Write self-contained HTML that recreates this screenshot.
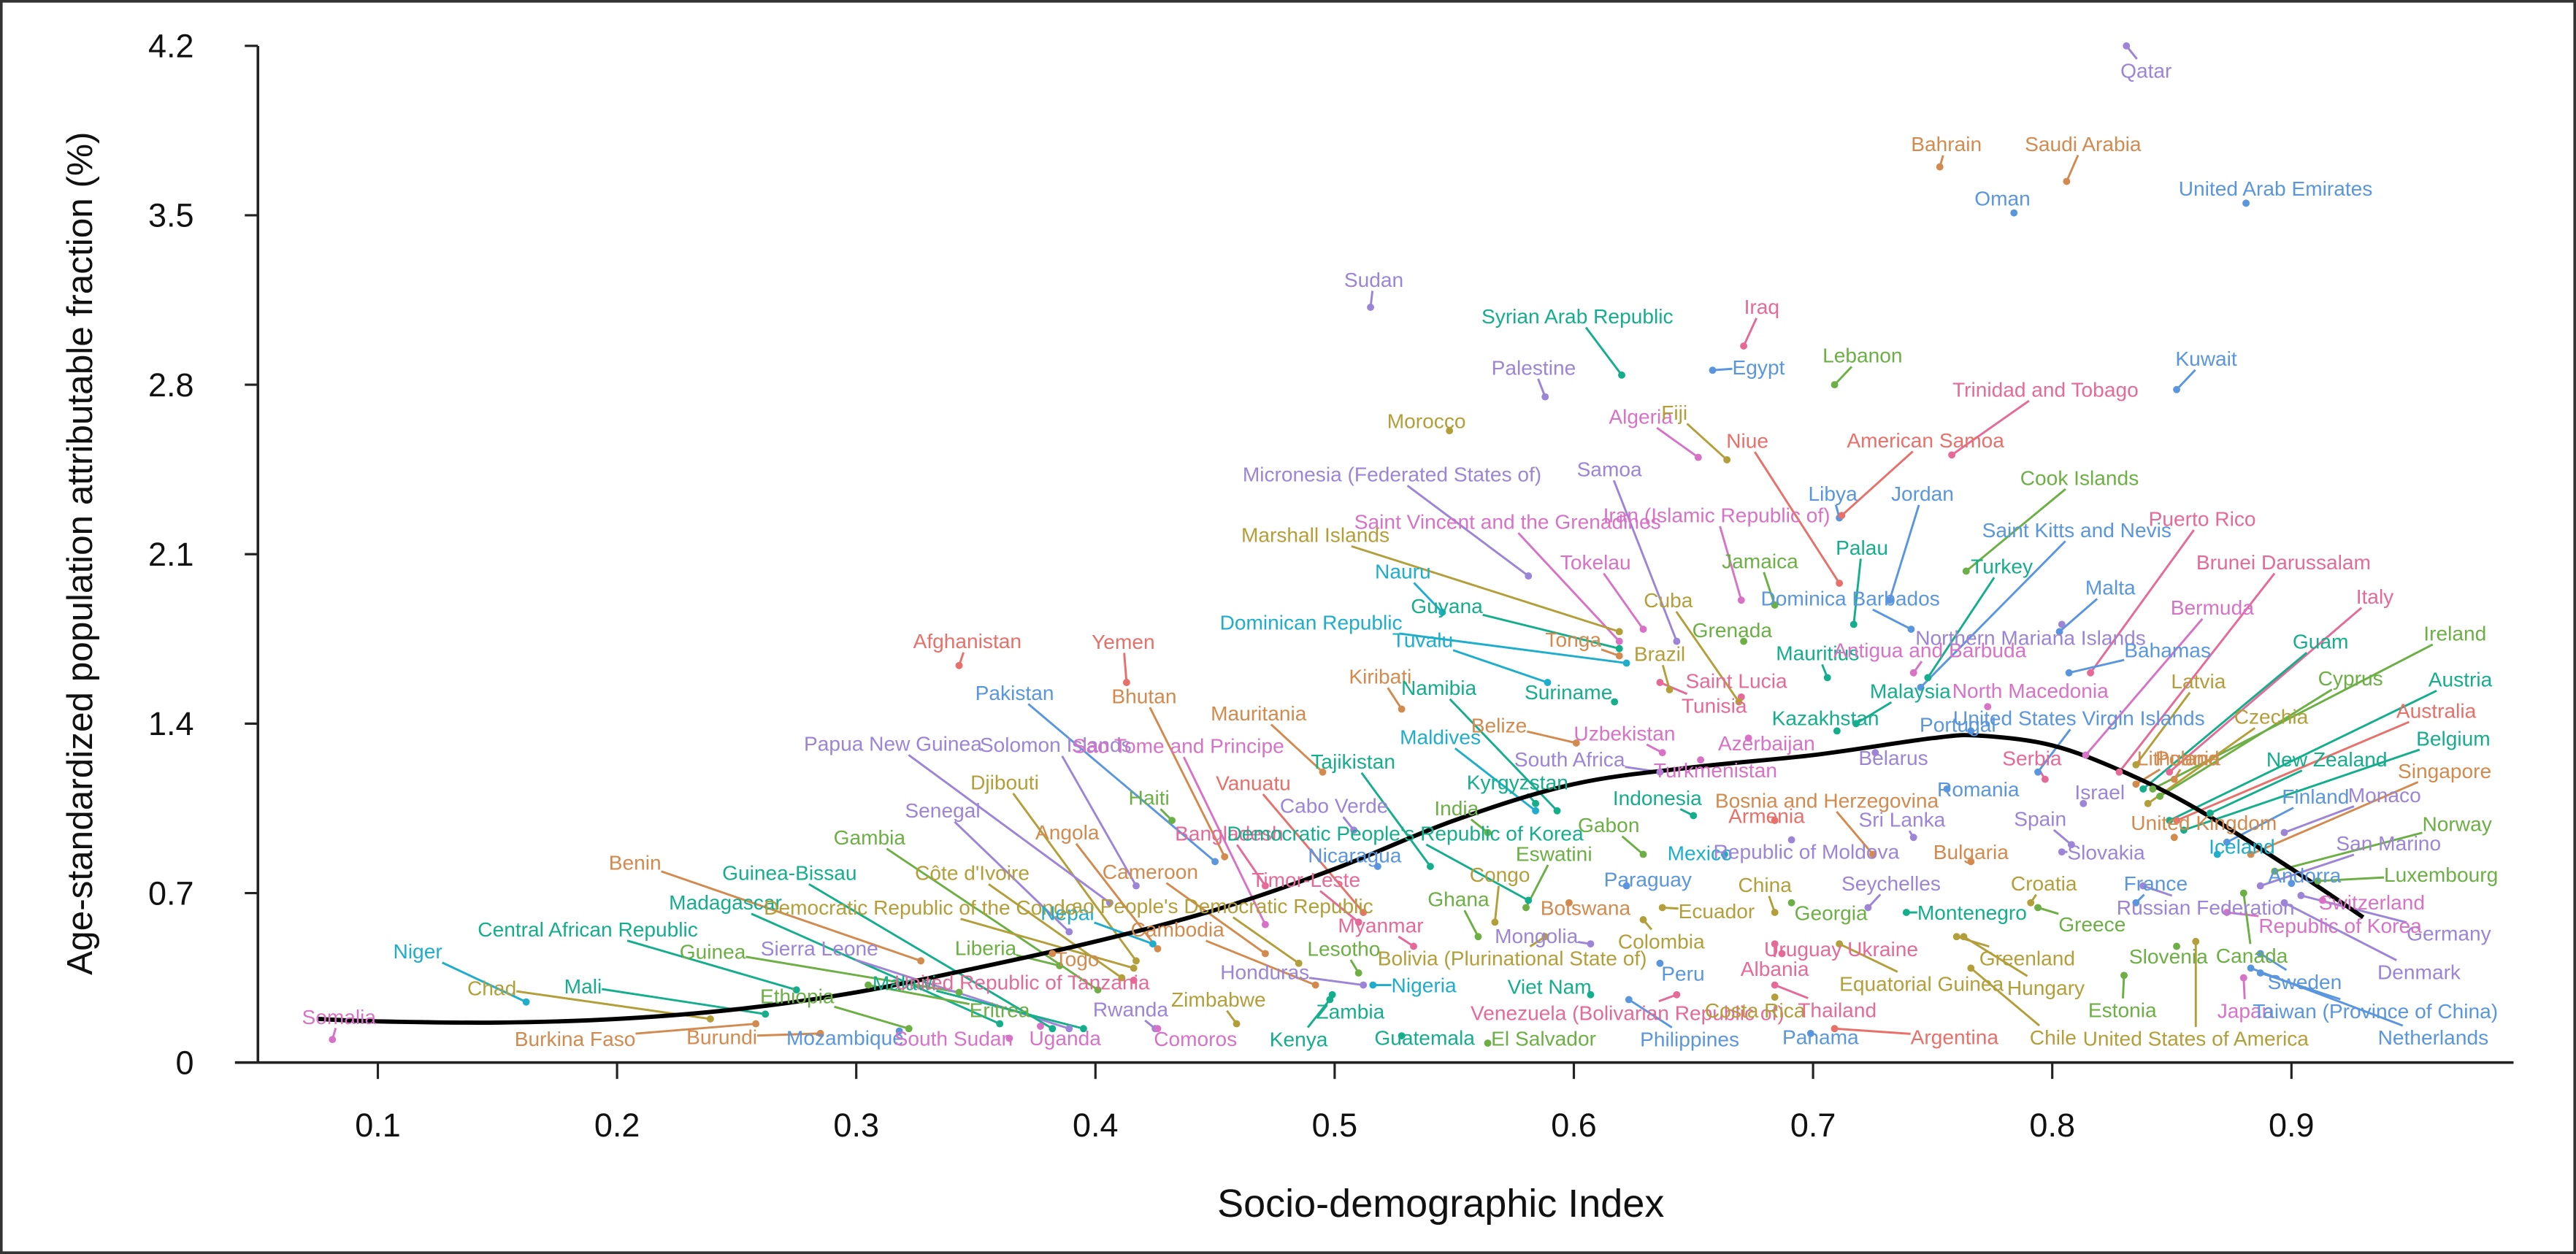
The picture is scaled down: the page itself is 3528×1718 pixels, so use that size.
<!DOCTYPE html>
<html><head><meta charset="utf-8">
<style>
html,body{margin:0;padding:0;background:#fff;}
svg{display:block;}
text{font-family:"Liberation Sans",Arial,sans-serif;}
</style></head>
<body>
<svg id="chart" width="3528" height="1718" viewBox="0 0 1568 763.6" preserveAspectRatio="none" xmlns="http://www.w3.org/2000/svg">
<rect x="0.8" y="0.8" width="1566.4" height="762" fill="#fff" stroke="#333" stroke-width="1.6"/>
<g id="axes"></g>
<g id="lines"></g>
<g id="curve"></g>
<g id="dots"></g>
<g id="labels"></g>
<text x="877" y="741" font-size="24" text-anchor="middle" fill="#111">Socio-demographic Index</text>
<text transform="translate(56,337) rotate(-90)" font-size="22" text-anchor="middle" fill="#111">Age-standardized population attributable fraction (%)</text>
</svg>
<script>
const xTicks = [0.1,0.2,0.3,0.4,0.5,0.6,0.7,0.8,0.9];
const xTickLabels = ["0.1","0.2","0.3","0.4","0.5","0.6","0.7","0.8","0.9"];
const yTicks = [0,0.7,1.4,2.1,2.8,3.5,4.2];
const yTickLabels = ["0","0.7","1.4","2.1","2.8","3.5","4.2"];
const smoothSdi = [0.075,0.1,0.15,0.2,0.25,0.3,0.35,0.4,0.45,0.5,0.55,0.6,0.65,0.7,0.75,0.77,0.8,0.83,0.86,0.9,0.93];
const smoothPaf = [0.18,0.17,0.165,0.18,0.22,0.29,0.39,0.5,0.63,0.8,1.0,1.15,1.22,1.27,1.34,1.35,1.31,1.2,1.05,0.8,0.6];
const countries = ["Somalia","Niger","Chad","Mali","Central African Republic","Burkina Faso","Burundi","Mozambique","South Sudan","Uganda","Benin","Madagascar","Guinea","Sierra Leone","Ethiopia","Malawi","United Republic of Tanzania","Eritrea","Liberia","Gambia","Guinea-Bissau","Côte d'Ivoire","Senegal","Djibouti","Democratic Republic of the Congo","Togo","Nepal","Angola","Papua New Guinea","Solomon Islands","Pakistan","Afghanistan","Yemen","Bhutan","Sao Tome and Principe","Haiti","Cameroon","Lao People's Democratic Republic","Cambodia","Rwanda","Zimbabwe","Comoros","Bangladesh","Vanuatu","Mauritania","Cabo Verde","Tajikistan","Timor-Leste","Honduras","Lesotho","Zambia","Kenya","Guatemala","Nigeria","Myanmar","Nicaragua","Democratic People's Republic of Korea","Bolivia (Plurinational State of)","Kiribati","Namibia","Maldives","India","Kyrgyzstan","Eswatini","Congo","Ghana","Belize","Uzbekistan","South Africa","Turkmenistan","Gabon","Indonesia","Paraguay","Mexico","Botswana","Ecuador","Colombia","Mongolia","Viet Nam","Peru","Venezuela (Bolivarian Republic of)","El Salvador","Philippines","Costa Rica","Panama","Thailand","Argentina","Albania","Uruguay Ukraine","Georgia","China","Seychelles","Equatorial Guinea","Hungary","Greenland","Montenegro","Croatia","Chile","Greece","Bosnia and Herzegovina","Armenia","Azerbaijan","Tunisia","Republic of Moldova","Sri Lanka","Bulgaria","Spain","Slovakia","Serbia","Belarus","Romania","Kazakhstan","Portugal","Malaysia","Mauritius","Antigua and Barbuda","Saint Lucia","Grenada","Dominica Barbados","Jamaica","Cuba","Brazil","Tonga","Tokelau","Samoa","Saint Vincent and the Grenadines","Iran (Islamic Republic of)","Micronesia (Federated States of)","Marshall Islands","Nauru","Guyana","Dominican Republic","Tuvalu","Suriname","Morocco","Sudan","Palestine","Syrian Arab Republic","Algeria","Egypt","Iraq","Fiji","Niue","Lebanon","Libya","Palau","Jordan","Turkey","Cook Islands","Trinidad and Tobago","American Samoa","Saint Kitts and Nevis","Puerto Rico","Northern Mariana Islands","Bahamas","Malta","North Macedonia","United States Virgin Islands","Brunei Darussalam","Bermuda","Bahrain","Saudi Arabia","Oman","Qatar","United Arab Emirates","Kuwait","Italy","Guam","Ireland","Latvia","Cyprus","Austria","Czechia","Australia","Lithuania","Poland","Belgium","New Zealand","Singapore","Israel","Finland","Monaco","United Kingdom","Norway","France","Iceland","San Marino","Andorra","Luxembourg","Russian Federation","Switzerland","Germany","Republic of Korea","Slovenia","Canada","Denmark","Sweden","Japan","Taiwan (Province of China)","Estonia","Netherlands","United States of America"];
const sdiValues = [0.081,0.162,0.239,0.262,0.275,0.258,0.285,0.318,0.364,0.377,0.327,0.36,0.343,0.389,0.322,0.395,0.416,0.305,0.385,0.401,0.382,0.411,0.389,0.417,0.416,0.382,0.424,0.426,0.406,0.417,0.45,0.343,0.413,0.454,0.471,0.432,0.471,0.485,0.492,0.425,0.459,0.426,0.471,0.512,0.495,0.508,0.54,0.51,0.512,0.51,0.499,0.498,0.528,0.516,0.533,0.518,0.581,0.588,0.528,0.593,0.584,0.564,0.584,0.58,0.567,0.56,0.601,0.637,0.636,0.653,0.629,0.65,0.622,0.663,0.598,0.637,0.629,0.607,0.607,0.636,0.643,0.564,0.623,0.684,0.699,0.684,0.709,0.684,0.687,0.691,0.684,0.723,0.711,0.763,0.76,0.739,0.791,0.766,0.794,0.725,0.684,0.673,0.636,0.691,0.742,0.766,0.808,0.804,0.797,0.726,0.756,0.71,0.766,0.718,0.706,0.742,0.67,0.671,0.741,0.684,0.669,0.64,0.619,0.629,0.643,0.619,0.67,0.581,0.619,0.545,0.619,0.622,0.589,0.617,0.548,0.515,0.588,0.62,0.652,0.658,0.671,0.664,0.711,0.709,0.711,0.717,0.732,0.748,0.764,0.758,0.712,0.745,0.816,0.804,0.807,0.803,0.773,0.794,0.828,0.814,0.753,0.806,0.784,0.831,0.881,0.852,0.849,0.838,0.842,0.835,0.845,0.849,0.84,0.852,0.835,0.851,0.855,0.866,0.883,0.813,0.873,0.897,0.851,0.893,0.835,0.869,0.887,0.9,0.911,0.838,0.913,0.904,0.873,0.852,0.88,0.897,0.887,0.88,0.887,0.83,0.883,0.86];
const pafValues = [0.095,0.25,0.18,0.2,0.3,0.16,0.12,0.13,0.1,0.15,0.42,0.16,0.29,0.14,0.14,0.14,0.34,0.32,0.4,0.3,0.14,0.35,0.54,0.42,0.39,0.45,0.49,0.47,0.66,0.73,0.83,1.64,1.57,0.85,0.57,1.0,0.45,0.41,0.32,0.14,0.16,0.14,0.73,0.62,1.2,0.96,0.81,0.58,0.32,0.37,0.28,0.26,0.11,0.32,0.48,0.81,0.67,0.52,1.46,1.04,1.04,0.95,1.07,0.64,0.58,0.52,1.32,1.28,1.2,1.25,0.86,1.02,0.73,0.86,0.66,0.64,0.59,0.49,0.28,0.41,0.28,0.08,0.26,0.27,0.12,0.32,0.14,0.49,0.45,0.66,0.62,0.64,0.49,0.52,0.52,0.62,0.66,0.39,0.64,0.86,1.0,1.34,1.57,0.92,0.93,0.83,0.9,0.87,1.17,1.28,1.13,1.37,1.37,1.4,1.59,1.61,1.51,1.74,1.79,1.89,1.49,1.54,1.68,1.79,1.74,1.74,1.91,2.01,1.78,1.86,1.71,1.65,1.57,1.49,2.61,3.12,2.75,2.84,2.5,2.86,2.96,2.49,1.98,2.8,2.25,1.81,1.91,1.59,2.03,2.51,2.26,1.55,1.61,1.81,1.61,1.78,1.47,1.2,1.2,1.27,3.7,3.64,3.51,4.2,3.55,2.78,1.2,1.13,1.13,1.23,1.1,1.0,1.07,1.0,1.15,1.17,0.96,1.03,0.86,1.07,0.91,0.95,0.93,0.79,0.66,0.86,0.73,0.74,0.75,0.73,0.67,0.69,0.62,0.48,0.7,0.66,0.45,0.35,0.37,0.36,0.39,0.5];
const colorCodes = "kcyttoobkkotgpgtmgggtypyyocoppbrrokgoyopykmroptmpgtttcmbtyotcgtgygokpkgtbcoyyptbmgbybmrmmgypyyytyygorkmppoppmpbtbttkmgbgyyokpkkpyctcctypptkbmyrgbtbtgmrbmpbbkbmkoobpbbmtgygtyroottopbpogbcpbgpkpkggpbkbgbypcpgcm";
const colorMap = {r:"#E8706A",o:"#D38A4E",y:"#B39F3A",g:"#6CAF44",t:"#15AE8C",c:"#1EAECB",b:"#5A96DE",p:"#9C84D6",k:"#D872C6",m:"#E56A98"};
// label layout offsets (screen px in plot units) - annotation layout, not data
const labelDx = [4,-66,-133,-111,-127,-110,-60,-33,-34,15,-174,-167,-150,-152,-68,-109,-68,80,-45,-139,-160,-91,-77,-80,-130,15,-52,-55,-132,-49,-122,5,-2,-49,-53,-14,-70,-50,-84,-15,-11,23,-22,-67,-39,-12,-47,-32,-60,-9,11,-19,14,31,-20,-14,-75,-20,-13,-72,-58,-19,-11,17,3,-12,-47,-23,-55,9,-21,-22,13,-15,10,33,11,-33,-25,14,-30,34,37,-12,6,38,73,0,36,24,-6,14,50,50,43,40,8,50,33,-28,-5,11,33,9,-7,0,-19,27,-8,11,19,-7,-8,33,-6,10,-3,-7,-37,-9,-43,-6,-28,-29,-41,-68,-15,-83,-185,-24,-105,-192,-76,-28,-14,2,-7,-27,-35,28,11,-32,-56,17,-4,5,20,45,69,57,51,95,68,-19,60,31,26,25,100,77,4,10,-7,12,18,18,125,108,184,38,116,177,75,158,26,8,164,71,118,10,54,61,18,111,12,15,78,8,75,38,30,90,69,-5,5,82,27,1,70,-1,111,0];
const labelDy = [-14,-31,-19,-17,-37,9,2,4,0,7,-60,-74,-25,-49,-20,-28,1,15,-11,-93,-95,-64,-74,-109,-37,3,-19,-71,-97,-86,-103,-15,-25,-98,-109,-14,-50,-35,-34,-12,-15,6,-32,-79,-36,-15,-64,-26,-8,-15,10,24,1,0,-13,-7,-41,13,-20,-75,-45,-15,-13,-33,-29,-23,-11,-12,-8,6,-18,-11,-4,-1,3,2,13,-5,-5,6,11,-3,24,8,2,15,5,15,-3,6,-17,-15,24,31,13,0,-12,42,10,-33,-3,3,14,7,-11,-6,-16,0,-13,3,0,-8,-4,-20,-15,-14,-10,-7,-19,-27,-62,-22,-10,-41,-105,-73,-52,-62,-59,-25,-26,-25,-26,-6,-6,-17,-18,-36,-25,-2,-24,-29,-87,-18,-15,-47,-65,-68,-57,-40,-46,-96,-94,8,-14,-27,-10,-33,-128,-90,-14,-23,-9,15,-9,-19,-107,-90,-95,-51,-72,-86,-53,-67,-16,-13,-56,-33,-51,-7,-28,-23,-9,-29,-12,-5,-26,-5,-4,13,1,23,8,6,38,42,17,20,23,21,42,59];

const NS = "http://www.w3.org/2000/svg";
const X0 = 157, X1 = 1530, Y0 = 647, YTOP = 28;
function xScale(v){ return 84.4 + v*1456; }
function yScale(v){ return 647 - v*147.4; }

const axes = document.getElementById('axes');
function mk(tag, attrs, parent){ const e=document.createElementNS(NS,tag); for(const k in attrs) e.setAttribute(k,attrs[k]); parent.appendChild(e); return e; }

const xAxisLine = mk('line',{x1:143,y1:Y0,x2:X1,y2:Y0,stroke:'#222','stroke-width':1.6},axes);


const yAxisLine = mk('line',{x1:X0,y1:Y0,x2:X0,y2:YTOP,stroke:'#222','stroke-width':1.6},axes);



xTicks.forEach((t,i)=>{
  const x = xScale(t);
  const tk = mk('line',{x1:x,y1:Y0,x2:x,y2:Y0+10,stroke:'#222','stroke-width':1.4},axes);
  
  
  const lb = mk('text',{x:x,y:Y0+45,'font-size':20,'text-anchor':'middle',fill:'#111'},axes);
  lb.textContent = xTickLabels[i];
  
  
});
yTicks.forEach((t,i)=>{
  const y = yScale(t);
  const tk = mk('line',{x1:X0,y1:y,x2:X0-8,y2:y,stroke:'#222','stroke-width':1.4},axes);
  
  
  const lb = mk('text',{x:118,y:y+7,'font-size':20,'text-anchor':'end',fill:'#111'},axes);
  lb.textContent = yTickLabels[i];
  
  
});

// trend curve (smooth via Catmull-Rom)
(function(){
  const pts = smoothSdi.map((s,i)=>[xScale(s), yScale(smoothPaf[i])]);
  let d = 'M'+pts[0][0]+','+pts[0][1];
  for(let i=0;i<pts.length-1;i++){
    const p0=pts[Math.max(0,i-1)], p1=pts[i], p2=pts[i+1], p3=pts[Math.min(pts.length-1,i+2)];
    const c1=[p1[0]+(p2[0]-p0[0])/6, p1[1]+(p2[1]-p0[1])/6];
    const c2=[p2[0]-(p3[0]-p1[0])/6, p2[1]-(p3[1]-p1[1])/6];
    d += ' C'+c1[0]+','+c1[1]+' '+c2[0]+','+c2[1]+' '+p2[0]+','+p2[1];
  }
  const path = mk('path',{d:d,fill:'none',stroke:'#000','stroke-width':2.6},document.getElementById('curve'));
  
  
})();

const gLines = document.getElementById('lines'), gDots = document.getElementById('dots'), gLabels = document.getElementById('labels');
countries.forEach((name,i)=>{
  const col = colorMap[colorCodes[i]] || '#888';
  const px = xScale(sdiValues[i]), py = yScale(pafValues[i]);
  const lx = px + labelDx[i], ly = py + labelDy[i];
  const t = mk('text',{x:lx,y:ly+4.5,'font-size':12.5,'text-anchor':'middle',fill:col},gLabels);
  t.textContent = name;
  
  
  const c = mk('circle',{cx:px,cy:py,r:2.2,fill:col},gDots);
  
  
  let hw = 3.2*name.length;
  try { hw = t.getComputedTextLength()/2; } catch(e){}
  const hh = 7;
  const dx = px - lx, dy = py - ly;
  if (Math.abs(dx) > hw+3 || Math.abs(dy) > hh+3) {
    let s = Infinity;
    if (dx !== 0) s = Math.min(s, hw/Math.abs(dx));
    if (dy !== 0) s = Math.min(s, hh/Math.abs(dy));
    const sx = lx + dx*s, sy = ly + dy*s;
    const ln = mk('line',{x1:sx,y1:sy,x2:px,y2:py,stroke:col,'stroke-width':1.3},gLines);
    
    
  }
});
</script>
</body></html>
